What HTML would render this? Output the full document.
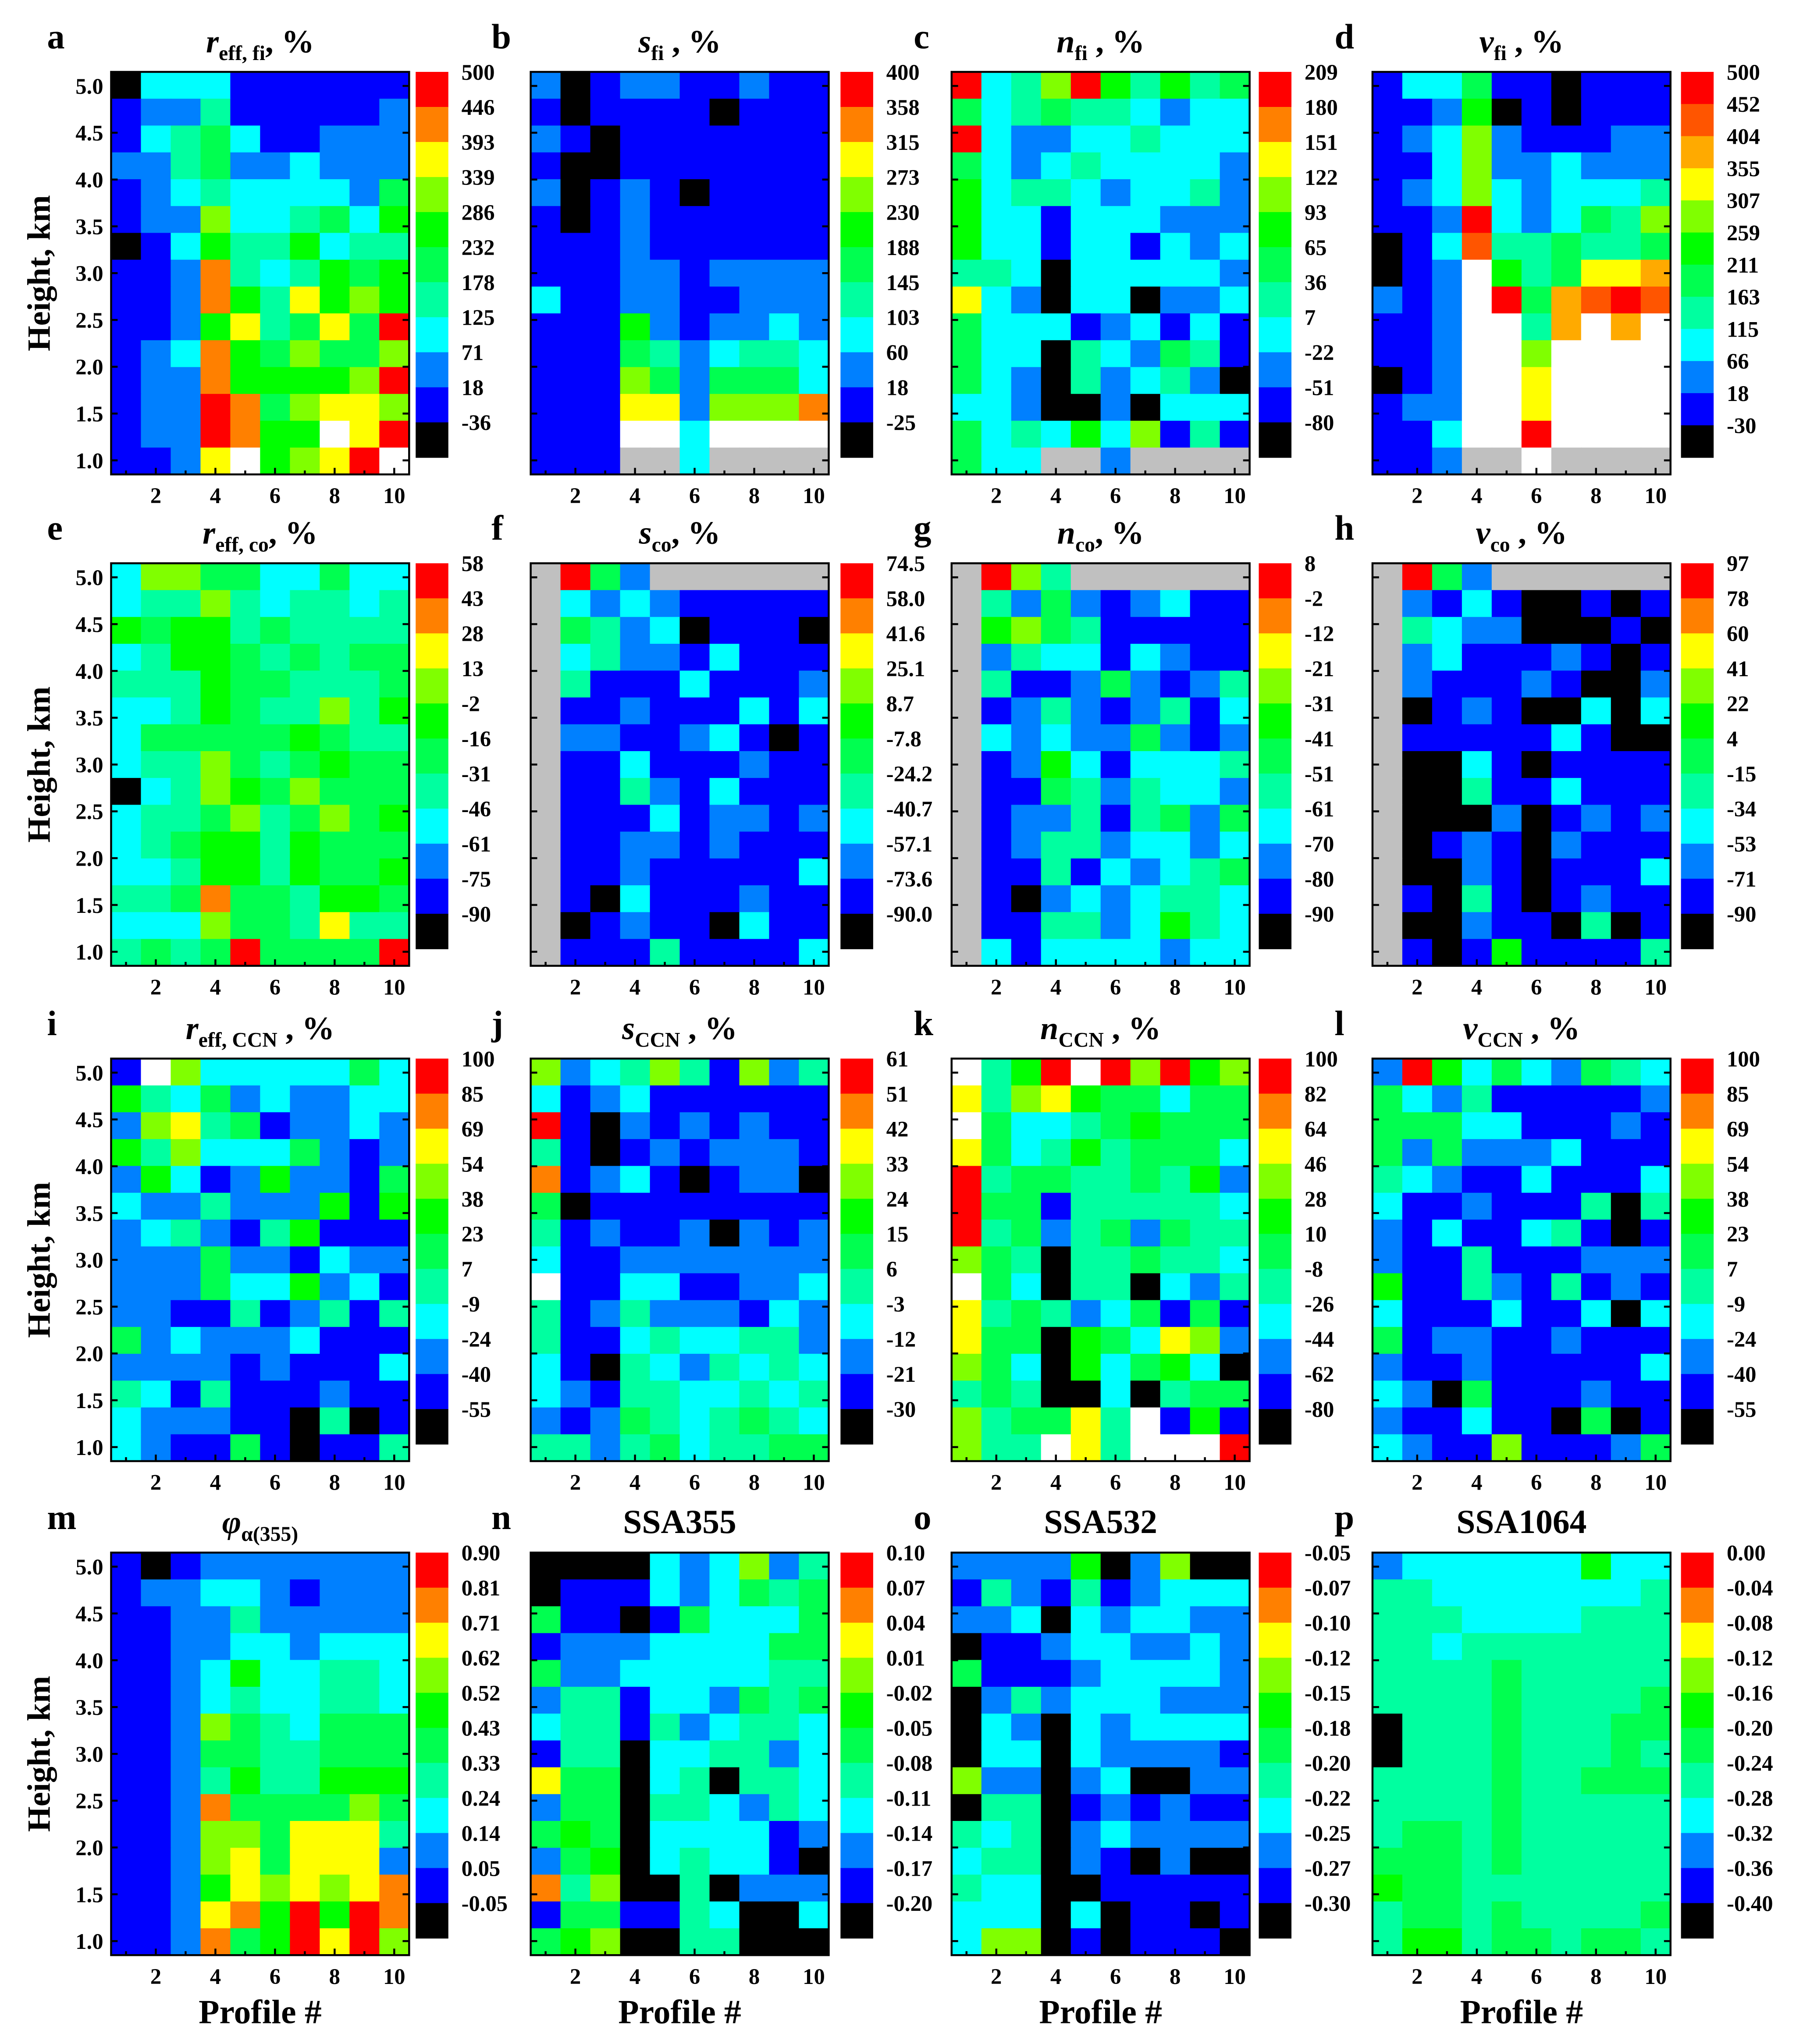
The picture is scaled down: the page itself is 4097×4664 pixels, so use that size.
<!DOCTYPE html>
<html><head><meta charset="utf-8"><title>Profiles heatmaps</title>
<style>
html,body{margin:0;padding:0;background:#fff;}
svg{display:block;}
text{font-family:"Liberation Serif",serif;font-weight:bold;fill:#000;}
</style></head>
<body>
<svg id="fig" xmlns="http://www.w3.org/2000/svg" width="4097" height="4664" viewBox="0 0 1374 1564" preserveAspectRatio="none">
<rect x="0" y="0" width="1374" height="1564" fill="#fff"/>
</svg>
<script>
// level codes: K black, B blue, D dodger, C cyan, A aqua, S spring, G green, L lime, Y yellow, O orange, R red, P orangered, Q amber, W white(missing), X gray(no data)
const cellsA=["KCCCBBBBBB","BDDABBBBBD","BCASCBBDDD","DDASDDCDDD","BDCACCCCDS","BDDLCCASCG","KBCGAAGCAA","BBDOACAGSG","BBDOGAYGLG","BBDGYASYSR","BDCOGSLSSL","BDDOGGGGLR","BDDROSLYYL","BDDROGGWYR","BBDYWGLYRW"];
const cellsB=["DKBDDBBDBB","BKBBBBKBBB","DBKBBBBBBB","BKKBBBBBBB","DKBDBKBBBB","BKBDBBBBBB","BBBDBBBBBB","BBBDDBDDDD","CBBDDBBDDD","BBBGDBDDCD","BBBSADCAAC","BBBLSDSSSC","BBBYYDLLLO","BBBWWCWWWW","BBBXXCXXXX"];
const cellsC=["RCALRGAGAS","SCASAACDCC","RCDDCCACCC","SCDCACCCCD","GCAACDCCAD","GCCBCCCDDD","GCCBCCBCDC","AACKCCCCCD","YCDKCCKDDC","SCCCBDCBCB","SCCKACDSAB","SCDKADCADK","CCDKKDKCCC","SCACGCLBAB","SCCXXDXXXX"];
const cellsD=["BCCSBBKBBB","BBDGKBKBBB","BDCLDBBBDD","BBCLDDCDDD","BDCLCDCCCA","BBDRCDCSAL","KBCPAASAAS","KBDWGASYYQ","DBDWRSQPRP","BBDWWAQWQW","BBDWWLWWWW","KBDWWYWWWW","BDDWWYWWWW","BBCWWRWWWW","BBDXXWXXXX"];
const cellsE=["CLLSSCCSCC","CAALACAACA","GSGGASAAAA","CAGGSASASS","AAAGSSAAAS","CCAGSAALAG","CSSSSSGSAA","CAALSASGSS","KCALGSLSSS","CAASLASLSG","CASGGAGSSS","CCAGGAGSSG","AASOSSAGGS","CCCLSSAYAA","ASASRSSSSR"];
const cellsF=["XRSDXXXXXX","XCDCDBBBBB","XSADCKBBBK","XCADDBCBBB","XABBBCBBBD","XBBDBBBCBC","XDDBBDCBKB","XBBCBBBDBB","XBBADBCBBB","XBBBCBDDBD","XBBDDBDBBB","XBBDBBBBBC","XBKCBBBDBB","XKBDBBKCBB","XBBBABBBBC"];
const cellsG=["XRLAXXXXXX","XADSDBDCBB","XGLSABBBBB","XDACCBCDBB","XABBDSDBDA","XBDADBDABC","XCDCDDSDBD","XBDGCBCCCA","XBBSADACCD","XBDDABASDS","XBDAADCCDC","XBBABCDCAS","XBKDCDCAAC","XBBAADCGAC","XCBCCCCDCC"];
const cellsH=["XRSDXXXXXX","XDBCBKKBKB","XACDDKKKBK","XDCBBBDBKB","XDBBBDBKKD","XKBDBKKCKC","XBBBBBCBKK","XKKCBKBBBB","XKKABBCBBB","XKKKDKBDBD","XKBDBKDBBB","XKKDBKBBBC","XBKABKBDBB","XKKDBBKAKB","XBKBGBBBBA"];
const cellsI=["BWLCCCCCSC","GACSDCDDCC","DLYASBDDCD","GALCCCSDBD","DGCBDGDDBS","CDDADDDGBG","DCADBAGBBB","DDDSDDBCDD","DDDSCCGDCB","DDBBABDABA","SDCDDDCBBB","DDDDBDBBBC","ACBABBBDBB","CDDDBBKAKB","CDBBSBKBBA"];
const cellsJ=["LDCALABLDA","CBDCBBBBBB","RBKDBDBDBB","ABKBDBDDDB","OBDCBKBDDK","SKBBBBBBBB","ABDBBDKDBD","CBBDDDDDDD","WBBCCBBDDC","ABDADDDBCD","ABBCACCAAD","CBKACDACAC","CDBAACCACA","DBDSACASAC","AADASCAASS"];
const cellsK=["WAGRWRLRGL","YALYGSSCSS","WSCCASGSSS","YSCAGASSSC","RASSAASAGD","RSSBAAAAAC","RASDASDSAA","LSAKAASAAC","WSCKAAKCDA","YASADCSBSB","YSSKGSCYLD","LSCKGCSGCK","ASAKKCKASS","LASSYAWBGB","LAAWYAWWWR"];
const cellsL=["DRGCSCDSAC","SCDABBBBBD","SSSCCBBBDB","SDSDDDCBBB","ACDBBCBBBC","CBBDBBBAKA","DBCBBCABKB","DBBABBBDDD","GBBADBABDB","CBBBCBBCKC","SBDDBBDBBB","DBBDBBBBBC","CDKSBBBDBB","DBBCBBKSKB","CDBBLBBBDS"];
const cellsM=["BKBDDDDDDD","BDDCCDBDDD","BBDDADDDDD","BBDDCCDCCC","BBDCGCCAAC","BBDCACCAAC","BBDLSACSSS","BBDSSAASSS","BBDAGAAGGG","BBDOSSSSLS","BBDLLSYYYA","BBDLYSYYYD","BBDGYLYLYO","BBDYOGRGRO","BBDOSGRYRL"];
const cellsN=["KKKKCDCLDA","KBBBCDCSAS","SBBKBSCCCS","BDDDCCCCSS","SDDCCCCCAA","DAABCCDSAS","CAABADCAAC","BAAKCCAADC","YSSKCAKAAC","DSSKAACDAC","SGSKCCCCBD","DSGKCACCBK","OALKKAKDDD","BSSBBACKKC","SGLKKAAKKK"];
const cellsO=["DDDDGKDLKK","BADBABDCCC","DDCKCDCCDD","KBBDCCDDCD","SBBBDCCCCD","KDADCCCDDD","KCDKCDCCCC","KCCKCDDDDB","LDDKDCKKDD","KAAKBDBDBB","ACAKDCDDDD","CAAKDBKDKK","ACCKKBBBBB","CCCKCKBBKB","CLLKBKBBBK"];
const cellsP=["DCCCCCCGCC","AACCCCCCCA","AAACCCCAAA","AACAAAAAAA","AAAASAAAAA","AAAASAAAAS","KAAASAAASS","KAAASAAASA","AAAASAASSS","AAAASAAAAA","ASSASAAAAA","SSSASAAAAA","GSSAAAAAAA","ASSASAAAAS","AGGASSASSA"];

const ticksA=["500","446","393","339","286","232","178","125","71","18","-36"];
const ticksB=["400","358","315","273","230","188","145","103","60","18","-25"];
const ticksC=["209","180","151","122","93","65","36","7","-22","-51","-80"];
const ticksD=["500","452","404","355","307","259","211","163","115","66","18","-30"];
const ticksE=["58","43","28","13","-2","-16","-31","-46","-61","-75","-90"];
const ticksF=["74.5","58.0","41.6","25.1","8.7","-7.8","-24.2","-40.7","-57.1","-73.6","-90.0"];
const ticksG=["8","-2","-12","-21","-31","-41","-51","-61","-70","-80","-90"];
const ticksH=["97","78","60","41","22","4","-15","-34","-53","-71","-90"];
const ticksI=["100","85","69","54","38","23","7","-9","-24","-40","-55"];
const ticksJ=["61","51","42","33","24","15","6","-3","-12","-21","-30"];
const ticksK=["100","82","64","46","28","10","-8","-26","-44","-62","-80"];
const ticksL=["100","85","69","54","38","23","7","-9","-24","-40","-55"];
const ticksM=["0.90","0.81","0.71","0.62","0.52","0.43","0.33","0.24","0.14","0.05","-0.05"];
const ticksN=["0.10","0.07","0.04","0.01","-0.02","-0.05","-0.08","-0.11","-0.14","-0.17","-0.20"];
const ticksO=["-0.05","-0.07","-0.10","-0.12","-0.15","-0.18","-0.20","-0.22","-0.25","-0.27","-0.30"];
const ticksP=["0.00","-0.04","-0.08","-0.12","-0.16","-0.20","-0.24","-0.28","-0.32","-0.36","-0.40"];

const profiles=[1,2,3,4,5,6,7,8,9,10];
const xTickLabels=[2,4,6,8,10];
const heightTicks=[5.0,4.5,4.0,3.5,3.0,2.5,2.0,1.5,1.0];

const PAL={K:'#000000',B:'#0000ff',D:'#0080ff',C:'#00ffff',A:'#00ffa0',S:'#00ff50',G:'#00ff00',L:'#80ff00',Y:'#ffff00',O:'#ff8000',R:'#ff0000',P:'#ff5500',Q:'#ffaa00',W:'#ffffff',X:'#c0c0c0'};
const BAR11=['R','O','Y','L','G','S','A','C','D','B','K'];
const BAR12=['R','P','Q','Y','L','G','S','A','C','D','B','K'];

const NS='http://www.w3.org/2000/svg';
const svg=document.getElementById('fig');
const COLX=[85,406,728,1050], ROWY=[55,431,810,1188], PW=228, PH=308;
const CBX=[318,643,963,1286];
const LETX=[36,376,699,1021];
const YMAX=5.15, YMIN=0.85;

function el(tag,attrs,parent){const e=document.createElementNS(NS,tag);for(const k in attrs)e.setAttribute(k,attrs[k]);(parent||svg).appendChild(e);return e;}

const panels=[
 {id:'a',cells:cellsA,ticks:ticksA,bar:BAR11,t:['r','eff, fi',', %']},
 {id:'b',cells:cellsB,ticks:ticksB,bar:BAR11,t:['s','fi',' , %']},
 {id:'c',cells:cellsC,ticks:ticksC,bar:BAR11,t:['n','fi',' , %']},
 {id:'d',cells:cellsD,ticks:ticksD,bar:BAR12,t:['v','fi',' , %']},
 {id:'e',cells:cellsE,ticks:ticksE,bar:BAR11,t:['r','eff, co',', %']},
 {id:'f',cells:cellsF,ticks:ticksF,bar:BAR11,t:['s','co',', %']},
 {id:'g',cells:cellsG,ticks:ticksG,bar:BAR11,t:['n','co',', %']},
 {id:'h',cells:cellsH,ticks:ticksH,bar:BAR11,t:['v','co',' , %']},
 {id:'i',cells:cellsI,ticks:ticksI,bar:BAR11,t:['r','eff, CCN',' , %']},
 {id:'j',cells:cellsJ,ticks:ticksJ,bar:BAR11,t:['s','CCN',' , %']},
 {id:'k',cells:cellsK,ticks:ticksK,bar:BAR11,t:['n','CCN',' , %']},
 {id:'l',cells:cellsL,ticks:ticksL,bar:BAR11,t:['v','CCN',' , %']},
 {id:'m',cells:cellsM,ticks:ticksM,bar:BAR11,t:['φ','α(355)','']},
 {id:'n',cells:cellsN,ticks:ticksN,bar:BAR11,plain:'SSA355'},
 {id:'o',cells:cellsO,ticks:ticksO,bar:BAR11,plain:'SSA532'},
 {id:'p',cells:cellsP,ticks:ticksP,bar:BAR11,plain:'SSA1064'}
];

panels.forEach((p,idx)=>{
  const col=idx%4,row=Math.floor(idx/4);
  const x0=COLX[col],y0=ROWY[row];
  const nRows=p.cells.length, nCols=profiles.length;
  const cw=PW/nCols, ch=PH/nRows;
  const xScale=i=>x0+(i-0.5)*cw;
  const yScale=v=>y0+(YMAX-v)/(YMAX-YMIN)*PH;
  const g=el('g',{});
  
  
  p.cells.forEach((rowStr,r)=>{
    for(let c=0;c<nCols;c++){
      const cell=el('rect',{x:(xScale(profiles[c])-cw/2).toFixed(2),y:(y0+r*ch).toFixed(2),width:(cw+0.4).toFixed(2),height:(ch+0.4).toFixed(2),fill:PAL[rowStr[c]]},g);
      
      
    }
  });
  const fr=el('rect',{x:x0,y:y0,width:PW,height:PH,fill:'none',stroke:'#000','stroke-width':1.5},g);
  
  
  heightTicks.forEach(v=>{
    const y=yScale(v);
    el('line',{x1:x0,x2:x0+5,y1:y,y2:y,stroke:'#000','stroke-width':1.5},g);
    el('line',{x1:x0+PW-5,x2:x0+PW,y1:y,y2:y,stroke:'#000','stroke-width':1.5},g);
    if(col===0){
      const t=el('text',{x:x0-6,y:y+6,'font-size':17,'text-anchor':'end'},g);
      t.textContent=v.toFixed(1);
      
      
    }
  });
  profiles.forEach(pn=>{
    const x=xScale(pn);
    el('line',{x1:x,x2:x,y1:y0+PH,y2:y0+PH-(pn%2===0?5:3),stroke:'#000','stroke-width':1.5},g);
  });
  xTickLabels.forEach(pn=>{
    const t=el('text',{x:xScale(pn),y:y0+PH+22,'font-size':17,'text-anchor':'middle'},g);
    t.textContent=pn;
    
    
  });
  const nb=p.bar.length, bh=295/nb, cx=CBX[col];
  p.bar.forEach((code,k)=>{
    const b=el('rect',{x:cx,y:(y0+k*bh).toFixed(2),width:25,height:(bh+0.3).toFixed(2),fill:PAL[code]},g);
    
    
  });
  p.ticks.forEach((lab,k)=>{
    const t=el('text',{x:cx+35,y:(y0+k*bh+6).toFixed(2),'font-size':17},g);
    t.textContent=lab;
    
    
  });
  const L=el('text',{x:LETX[col],y:y0-18,'font-size':27},g);
  L.textContent=p.id;
  
  
  const tt=el('text',{x:x0+PW/2,y:y0-15,'text-anchor':'middle'},g);
  
  
  if(p.plain){
    tt.setAttribute('font-size','26');
    tt.textContent=p.plain;
  } else {
    tt.setAttribute('font-size','25');
    const s1=el('tspan',{'font-style':'italic'},tt); s1.textContent=p.t[0];
    const s2=el('tspan',{'font-size':16,dy:6},tt); s2.textContent=p.t[1];
    const s3=el('tspan',{dy:-6},tt); s3.textContent=p.t[2];
  }
  if(col===0){
    const yt=el('text',{x:0,y:0,'font-size':25,'text-anchor':'middle',transform:'translate(38,'+(y0+PH/2)+') rotate(-90)'},g);
    yt.textContent='Height, km';
    
    
  }
  if(row===3){
    const xt=el('text',{x:x0+PW/2,y:1548,'font-size':26,'text-anchor':'middle'},g);
    xt.textContent='Profile #';
    
    
  }
});
</script>
</body></html>
